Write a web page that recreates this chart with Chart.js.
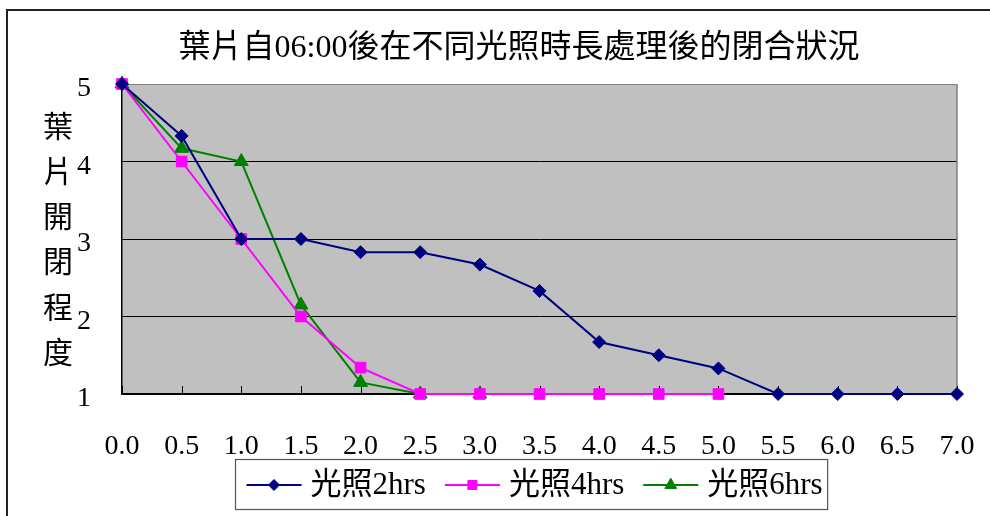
<!DOCTYPE html>
<html>
<head>
<meta charset="utf-8">
<script src="https://cdn.jsdelivr.net/npm/chart.js@4/dist/chart.umd.min.js"></script>
<style>
  html, body { margin: 0; padding: 0; background: #fff; }
  #wrap { width: 990px; height: 516px; position: relative; }
  canvas { display: block; }
</style>
</head>
<body>
<div id="wrap"><canvas id="c" width="990" height="516"></canvas></div>
<script>
// Hours elapsed after 06:00
const categories = ['0.0', '0.5', '1.0', '1.5', '2.0', '2.5', '3.0', '3.5',
                    '4.0', '4.5', '5.0', '5.5', '6.0', '6.5', '7.0'];

// Mean leaf opening score per light treatment
const light2hrs = [5, 4.33, 3, 3, 2.83, 2.83, 2.67, 2.33, 1.67, 1.5, 1.33, 1, 1, 1, 1];
const light4hrs = [5, 4, 3, 2, 1.34, 1, 1, 1, 1, 1, 1, null, null, null, null];
const light6hrs = [5, 4.17, 4, 2.15, 1.15, 1, 1, null, null, null, null, null, null, null, null];

const seriesNames = ['光照2hrs', '光照4hrs', '光照6hrs'];
const yTickValues = [1, 2, 3, 4, 5];

const chartTitle = '葉片自06:00後在不同光照時長處理後的閉合狀況';
const yAxisTitle = '葉片開閉程度';

const FONT = '"Liberation Serif", "Noto Sans CJK TC", serif';

// Frame, plot background, inward ticks, title, vertical axis title and boxed legend
const decorations = {
  id: 'decorations',
  beforeDraw(chart) {
    const { ctx, chartArea: a } = chart;
    ctx.save();
    ctx.fillStyle = '#fff';
    ctx.fillRect(0, 0, chart.width, chart.height);
    // outer frame
    ctx.strokeStyle = '#222';
    ctx.lineWidth = 2;
    ctx.beginPath();
    ctx.moveTo(7, chart.height + 2);
    ctx.lineTo(7, 10);
    ctx.lineTo(chart.width + 2, 10);
    ctx.stroke();
    // plot background
    ctx.fillStyle = '#C0C0C0';
    ctx.fillRect(a.left, a.top, a.right - a.left, a.bottom - a.top);
    ctx.restore();
  },
  beforeDatasetsDraw(chart) {
    const { ctx, chartArea: a } = chart;
    const xs = chart.scales.x;
    ctx.save();
    // right edge of the plot area
    ctx.strokeStyle = '#808080';
    ctx.lineWidth = 1.5;
    ctx.beginPath();
    ctx.moveTo(a.right, a.top);
    ctx.lineTo(a.right, a.bottom);
    ctx.stroke();
    // tick marks pointing into the plot
    ctx.strokeStyle = '#000';
    ctx.lineWidth = 1;
    ctx.beginPath();
    xs.ticks.forEach((t, i) => {
      const px = Math.round(xs.getPixelForTick(i)) + 0.5;
      ctx.moveTo(px, a.bottom);
      ctx.lineTo(px, a.bottom - 8);
    });
    ctx.stroke();
    ctx.restore();
  },
  afterDraw(chart) {
    const { ctx } = chart;
    ctx.save();
    ctx.fillStyle = '#000';
    ctx.textBaseline = 'middle';

    // title
    ctx.font = '32px ' + FONT;
    ctx.textAlign = 'center';
    ctx.fillText(chartTitle, 519, 49);

    // stacked vertical axis title
    ctx.font = '30px ' + FONT;
    Array.from(yAxisTitle).forEach((ch, i) => {
      ctx.fillText(ch, 58, 129 + i * 45.2);
    });

    // legend
    const datasets = chart.data.datasets;
    ctx.font = '31px ' + FONT;
    ctx.textAlign = 'left';
    const lineLen = 55, gapText = 9, gapItem = 19, padL = 11, padR = 5;
    const widths = datasets.map(d => ctx.measureText(d.label).width);
    const inner = widths.reduce((s, w) => s + lineLen + gapText + w, 0) + gapItem * (datasets.length - 1);
    const boxW = padL + inner + padR;
    const boxL = Math.round(531.5 - boxW / 2) + 0.5;
    const boxT = 459.5, boxH = 50, cy = 485;
    ctx.fillStyle = '#fff';
    ctx.fillRect(boxL, boxT, boxW, boxH);
    ctx.strokeStyle = '#555';
    ctx.lineWidth = 1.2;
    ctx.strokeRect(boxL, boxT, boxW, boxH);

    let x = boxL + padL;
    datasets.forEach((d, i) => {
      ctx.strokeStyle = d.borderColor;
      ctx.lineWidth = 2;
      ctx.beginPath();
      ctx.moveTo(x, cy);
      ctx.lineTo(x + lineLen, cy);
      ctx.stroke();
      ctx.fillStyle = d.backgroundColor;
      ctx.strokeStyle = d.borderColor;
      ctx.lineWidth = 1;
      Chart.helpers.drawPoint(ctx, {
        pointStyle: d.pointStyle,
        radius: d.pointRadius * 0.85,
        rotation: 0,
        borderWidth: 1
      }, x + lineLen / 2, cy);
      ctx.fillStyle = '#000';
      ctx.fillText(d.label, x + lineLen + gapText, cy + 1);
      x += lineLen + gapText + widths[i] + gapItem;
    });
    ctx.restore();
  }
};

function series(label, data, color, style, radius) {
  return {
    label,
    data,
    borderColor: color,
    backgroundColor: color,
    borderWidth: 2,
    pointStyle: style,
    pointRadius: radius,
    pointHoverRadius: radius,
    pointBorderWidth: 1,
    pointBorderColor: color,
    pointBackgroundColor: color,
    tension: 0,
    spanGaps: false,
    clip: false
  };
}

new Chart(document.getElementById('c'), {
  type: 'line',
  data: {
    labels: categories,
    datasets: [
      series(seriesNames[0], light2hrs, '#000080', 'rectRot', 6.5),
      series(seriesNames[1], light4hrs, '#FF00FF', 'rect', 7.5),
      series(seriesNames[2], light6hrs, '#008000', 'triangle', 8)
    ]
  },
  options: {
    responsive: false,
    animation: false,
    devicePixelRatio: 1,
    layout: { padding: { top: 84, right: 33, bottom: 0, left: 0 } },
    plugins: {
      legend: { display: false },
      title: { display: false },
      tooltip: { enabled: false }
    },
    scales: {
      x: {
        type: 'category',
        offset: false,
        // tick length only spaces the labels away from the axis; marks are drawn inward by the plugin
        grid: { display: false, drawTicks: true, tickLength: 36 },
        border: { display: true, color: '#000', width: 1.5 },
        ticks: {
          color: '#000',
          font: { family: FONT, size: 28 },
          padding: 0,
          maxRotation: 0,
          autoSkip: false
        },
        afterFit(scale) { scale.height = 122; }
      },
      y: {
        min: 1,
        max: 5,
        afterBuildTicks(scale) { scale.ticks = yTickValues.map(v => ({ value: v })); },
        grid: {
          drawTicks: false,
          color: c => (c.tick && c.tick.value === 5) ? '#808080' : '#000',
          lineWidth: 1
        },
        border: { display: true, color: '#000', width: 1.5 },
        ticks: {
          color: '#000',
          font: { family: FONT, size: 28 },
          padding: 31,
          labelOffset: 5
        },
        afterFit(scale) { scale.width = 122; }
      }
    }
  },
  plugins: [decorations]
});
</script>
</body>
</html>
